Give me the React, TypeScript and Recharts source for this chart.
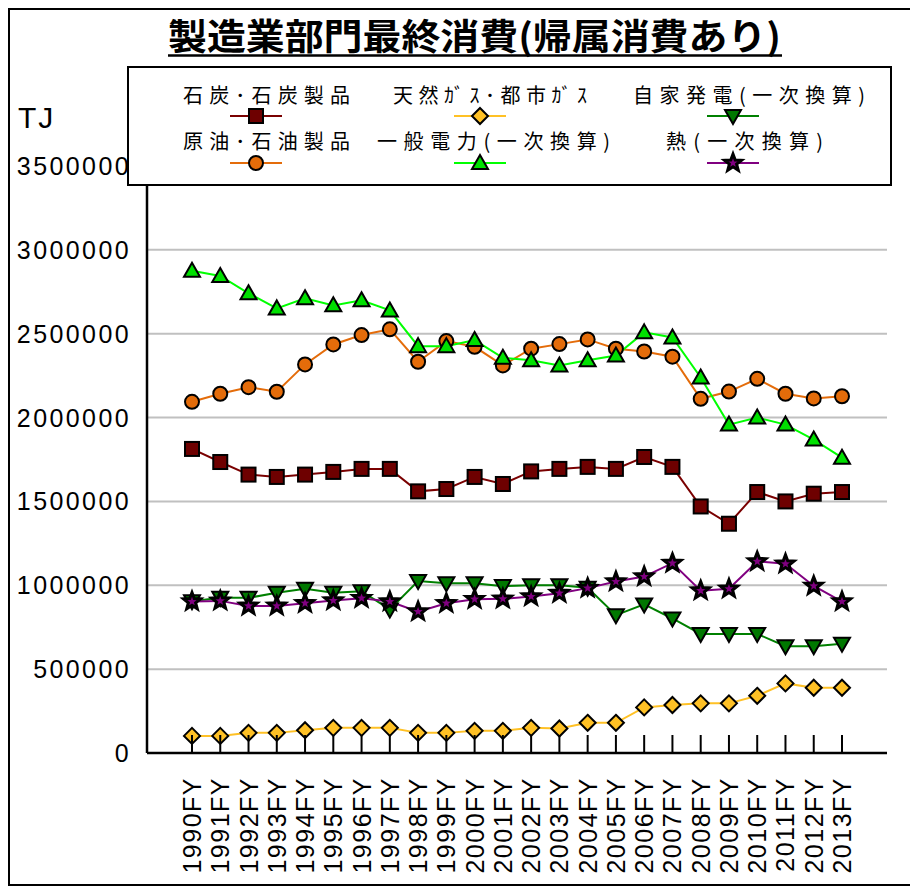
import React from 'react';
import { LineChart, Line, XAxis, YAxis, CartesianGrid, Legend } from 'recharts';

const years = [
  '1990FY', '1991FY', '1992FY', '1993FY', '1994FY', '1995FY', '1996FY', '1997FY',
  '1998FY', '1999FY', '2000FY', '2001FY', '2002FY', '2003FY', '2004FY', '2005FY',
  '2006FY', '2007FY', '2008FY', '2009FY', '2010FY', '2011FY', '2012FY', '2013FY',
];

const coal = [
  1813000, 1735000, 1660000, 1646000, 1660000, 1676000, 1694000, 1694000,
  1560000, 1574000, 1646000, 1604000, 1679000, 1694000, 1706000, 1694000,
  1765000, 1706000, 1470000, 1367000, 1556000, 1500000, 1546000, 1556000,
];
const oil = [
  2094000, 2142000, 2181000, 2154000, 2317000, 2436000, 2492000, 2526000,
  2333000, 2456000, 2422000, 2311000, 2411000, 2438000, 2466000, 2411000,
  2394000, 2363000, 2112000, 2155000, 2231000, 2142000, 2114000, 2127000,
];
const gas = [
  102000, 102000, 120000, 120000, 136000, 150000, 150000, 150000,
  120000, 120000, 132000, 132000, 150000, 146000, 180000, 180000,
  272000, 286000, 296000, 296000, 341000, 415000, 389000, 389000,
];
const power = [
  2875000, 2844000, 2741000, 2651000, 2711000, 2669000, 2699000, 2639000,
  2426000, 2426000, 2462000, 2356000, 2342000, 2311000, 2342000, 2370000,
  2508000, 2478000, 2239000, 1958000, 2000000, 1958000, 1869000, 1761000,
];
const selfGen = [
  905000, 925000, 925000, 955000, 980000, 955000, 965000, 856000,
  1025000, 1012000, 1012000, 995000, 1000000, 1000000, 985000, 822000,
  886000, 802000, 710000, 710000, 710000, 637000, 637000, 651000,
];
const heat = [
  903000, 907000, 877000, 877000, 893000, 909000, 923000, 903000,
  843000, 893000, 917000, 919000, 933000, 953000, 983000, 1022000,
  1052000, 1132000, 968000, 979000, 1142000, 1128000, 996000, 903000,
];

const yTicks = [0, 500000, 1000000, 1500000, 2000000, 2500000, 3000000, 3500000];

const titleText = '製造業部門最終消費(帰属消費あり)';
const unitText = 'TJ';

const names = {
  coal: '石炭･石炭製品',
  gas: '天然ｶﾞｽ･都市ｶﾞｽ',
  selfGen: '自家発電(一次換算)',
  oil: '原油･石油製品',
  power: '一般電力(一次換算)',
  heat: '熱(一次換算)',
};

const data = years.map((year, i) => ({
  year,
  coal: coal[i],
  oil: oil[i],
  gas: gas[i],
  power: power[i],
  selfGen: selfGen[i],
  heat: heat[i],
}));

type Shape = 'square' | 'diamond' | 'triDown' | 'circle' | 'triUp' | 'star';

const series: { key: keyof typeof names; line: string; fill: string; shape: Shape }[] = [
  { key: 'coal', line: '#7a0000', fill: '#6e0000', shape: 'square' },
  { key: 'oil', line: '#e46c0a', fill: '#e46c0a', shape: 'circle' },
  { key: 'gas', line: '#ffc125', fill: '#ffc125', shape: 'diamond' },
  { key: 'power', line: '#00ff00', fill: '#00e000', shape: 'triUp' },
  { key: 'selfGen', line: '#008000', fill: '#007800', shape: 'triDown' },
  { key: 'heat', line: '#800080', fill: '#800080', shape: 'star' },
];

const FONT_LATIN = '"Liberation Sans", Arial, sans-serif';
const FONT_CJK = '"Noto Sans CJK JP", "Noto Sans", sans-serif';

function Marker({ shape, cx, cy, fill }: { shape: Shape; cx: number; cy: number; fill: string }) {
  const common = { fill, stroke: '#000', strokeWidth: 2 };
  switch (shape) {
    case 'square':
      return <rect x={cx - 7} y={cy - 7} width={14} height={14} {...common} />;
    case 'diamond':
      return <polygon points={`${cx},${cy - 8} ${cx + 8},${cy} ${cx},${cy + 8} ${cx - 8},${cy}`} {...common} />;
    case 'triUp':
      return <polygon points={`${cx},${cy - 8} ${cx + 8},${cy + 6} ${cx - 8},${cy + 6}`} {...common} />;
    case 'triDown':
      return <polygon points={`${cx - 8},${cy - 6} ${cx + 8},${cy - 6} ${cx},${cy + 8}`} {...common} />;
    case 'circle':
      return <circle cx={cx} cy={cy} r={7} {...common} />;
    case 'star': {
      const pts: string[] = [];
      for (let k = 0; k < 10; k++) {
        const r = k % 2 === 0 ? 9 : 3.8;
        const a = -Math.PI / 2 + (k * Math.PI) / 5;
        pts.push(`${cx + r * Math.cos(a)},${cy + r * Math.sin(a)}`);
      }
      return <polygon points={pts.join(' ')} fill={fill} stroke="#000" strokeWidth={3} strokeLinejoin="miter" />;
    }
  }
  return null;
}

const XTick = (props: any) => {
  const { x, y, payload } = props;
  return (
    <g>
      <line x1={x} x2={x} y1={y} y2={y - 18} stroke="#000" strokeWidth={2} />
      <text
        transform={`translate(${x},${y + 24}) rotate(-90)`}
        textAnchor="end"
        dy="0.36em"
        fontSize={25}
        letterSpacing={1.5}
        fontFamily={FONT_LATIN}
        fill="#000"
      >
        {payload.value}
      </text>
    </g>
  );
};

const YTick = (props: any) => {
  const { x, y, payload } = props;
  return (
    <text x={x} y={y} textAnchor="end" dy="0.36em" fontSize={25} letterSpacing={2.4} fontFamily={FONT_LATIN} fill="#000">
      {payload.value}
    </text>
  );
};

// legend layout (px inside the legend box)
const legendLayout: Record<string, { tx: number; tw: number; ty: number; mx: number; my: number }> = {
  coal: { tx: 56, tw: 167, ty: 36.5, mx: 129, my: 50 },
  gas: { tx: 266, tw: 194, ty: 36.5, mx: 353, my: 50 },
  selfGen: { tx: 506, tw: 232, ty: 36.5, mx: 606, my: 50 },
  oil: { tx: 56, tw: 167, ty: 83, mx: 129, my: 97 },
  power: { tx: 250, tw: 233, ty: 83, mx: 353, my: 97 },
  heat: { tx: 539, tw: 157, ty: 83, mx: 606, my: 97 },
};

const LegendBox = () => (
  <svg width={765} height={120} style={{ display: 'block' }}>
    <rect x={1} y={1} width={763} height={118} fill="#fff" stroke="#000" strokeWidth={2} />
    {series.map((s) => {
      const l = legendLayout[s.key];
      return (
        <g key={s.key}>
          <text
            x={l.tx}
            y={l.ty}
            fontSize={20}
            fontFamily={FONT_CJK}
            textLength={l.tw}
            lengthAdjust="spacing"
            fill="#000"
          >
            {names[s.key]}
          </text>
          <line x1={l.mx - 26} x2={l.mx + 26} y1={l.my} y2={l.my} stroke={s.line} strokeWidth={2} />
          <Marker shape={s.shape} cx={l.mx} cy={l.my} fill={s.fill} />
        </g>
      );
    })}
  </svg>
);

export default function App() {
  return (
    <div
      style={{
        position: 'relative',
        width: 904,
        height: 878,
        outline: '2px solid #000',
        outlineOffset: -2,
        background: '#fff',
      }}
    >
      <LineChart width={904} height={878} data={data} margin={{ top: 158, right: 25, bottom: 0, left: 0 }}>
        <CartesianGrid horizontal vertical={false} stroke="#c0c0c0" strokeWidth={2} />
        <XAxis
          dataKey="year"
          padding={{ left: 45, right: 45 }}
          height={133}
          interval={0}
          tickSize={0}
          tickMargin={0}
          tickLine={false}
          tick={<XTick />}
          axisLine={{ stroke: '#000', strokeWidth: 2.5 }}
        />
        <YAxis
          domain={[0, 3500000]}
          ticks={yTicks}
          width={139}
          tickSize={0}
          tickMargin={16}
          tickLine={false}
          tick={<YTick />}
          interval={0}
          axisLine={{ stroke: '#000', strokeWidth: 2.5 }}
        />
        <YAxis
          yAxisId="right"
          orientation="right"
          width={0}
          domain={[0, 1]}
          tick={false}
          tickLine={false}
          axisLine={{ stroke: '#000', strokeWidth: 2.5 }}
        />
        {series.map((s) => (
          <Line
            key={s.key}
            dataKey={s.key}
            name={names[s.key]}
            type="linear"
            stroke={s.line}
            strokeWidth={2}
            isAnimationActive={false}
            dot={(p: any) => <Marker key={`${s.key}-${p.index}`} shape={s.shape} cx={p.cx} cy={p.cy} fill={s.fill} />}
            activeDot={false}
          />
        ))}
        <Legend
          layout="horizontal"
          verticalAlign="middle"
          align="center"
          wrapperStyle={{ left: 119, top: 58, width: 765, height: 120 }}
          content={() => <LegendBox />}
        />
      </LineChart>
      <svg width={904} height={135} style={{ position: 'absolute', left: 0, top: 0, pointerEvents: 'none' }}>
        <text
          x={160}
          y={42}
          fontSize={36}
          fontWeight="bold"
          fontFamily={FONT_CJK}
          textLength={613}
          lengthAdjust="spacingAndGlyphs"
          fill="#000"
        >
          {titleText}
        </text>
        <line x1={160} x2={774} y1={47.5} y2={47.5} stroke="#000" strokeWidth={2.5} />
        <text x={10} y={120} fontSize={30} letterSpacing={2} fontFamily={FONT_LATIN} fill="#000">
          {unitText}
        </text>
      </svg>
    </div>
  );
}
